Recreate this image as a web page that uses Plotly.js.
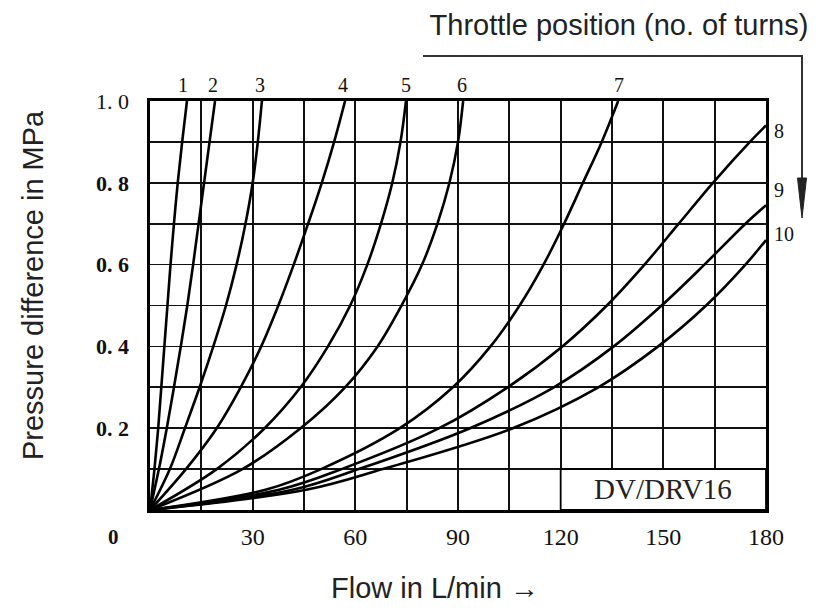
<!DOCTYPE html>
<html>
<head>
<meta charset="utf-8">
<script src="https://cdn.plot.ly/plotly-3.0.1.min.js"></script>
<style>
  html, body { margin: 0; padding: 0; background: #fff; }
  #chart { width: 819px; height: 608px; }
</style>
</head>
<body>
<div id="chart"></div>
<script>
// ---- data ----
const turnLabels = ['1', '2', '3', '4', '5', '6', '7', '8', '9', '10'];

// pressure levels (MPa) used for curves 1-6
const pressureA = [0, 0.1, 0.2, 0.3, 0.4, 0.5, 0.6, 0.7, 0.8, 0.9, 1.0];
const flow1 = [0, 1.3, 2.4, 3.3, 4.2, 5.1, 6.0, 7.0, 8.1, 9.4, 10.8];
const flow2 = [0, 2.6, 4.9, 7.0, 9.0, 10.9, 12.6, 14.2, 15.8, 17.4, 19.0];
const flow3 = [0, 5.8, 10.2, 14.5, 18.5, 22.2, 25.3, 27.9, 30.0, 31.5, 32.7];
const flow4 = [0, 10.5, 19.5, 26.5, 32.5, 37.5, 42.0, 46.2, 50.2, 53.8, 57.0];
const flow5 = [0, 19.5, 33.5, 44.0, 52.0, 58.5, 63.5, 67.5, 70.8, 73.2, 74.8];
const flow6 = [0, 27.0, 44.0, 57.0, 66.5, 73.5, 79.5, 84.0, 87.5, 90.0, 91.5];

const pressure7 = [0, 0.05, 0.1, 0.2, 0.3, 0.4, 0.5, 0.6, 0.7, 0.8, 0.9, 1.0];
const flow7     = [0, 34, 50, 73, 88.5, 99.5, 108, 115, 121, 126.5, 132, 136.8];

const pressure8 = [0, 0.05, 0.1, 0.2, 0.3, 0.4, 0.5, 0.6, 0.7, 0.8, 0.9, 0.94];
const flow8     = [0, 38, 56, 84.5, 104.5, 120.5, 133.5, 144.5, 154.5, 164.5, 175.3, 180];

const pressure9 = [0, 0.05, 0.1, 0.2, 0.3, 0.4, 0.5, 0.6, 0.7, 0.745];
const flow9     = [0, 42, 61, 93.5, 118, 135.5, 149.5, 162, 174, 180];

const pressure10 = [0, 0.05, 0.1, 0.2, 0.3, 0.4, 0.5, 0.6, 0.66];
const flow10     = [0, 46, 68, 106, 131, 148.5, 162.5, 174, 180];

const xTickVals = [30, 60, 90, 120, 150, 180];
const xTickText = ['30', '60', '90', '120', '150', '180'];
const yTickVals = [0.2, 0.4, 0.6, 0.8, 1.0];
const yTickText = ['<b>0. 2</b>', '<b>0. 4</b>', '<b>0. 6</b>', '<b>0. 8</b>', '1. 0'];

const flows = [flow1, flow2, flow3, flow4, flow5, flow6, flow7, flow8, flow9, flow10];
const pressures = [pressureA, pressureA, pressureA, pressureA, pressureA, pressureA,
                   pressure7, pressure8, pressure9, pressure10];

// ---- styling (kept separate from data) ----
const SERIF = '"Liberation Serif", "Times New Roman", serif';
const SANS = '"Liberation Sans", Arial, sans-serif';
const labelPlacement = [
  {side: 'top', dx: -4}, {side: 'top', dx: -2}, {side: 'top', dx: -2}, {side: 'top', dx: -2},
  {side: 'top', dx: 0}, {side: 'top', dx: -1}, {side: 'top', dx: 1},
  {side: 'right', dy: -5}, {side: 'right', dy: 15}, {side: 'right', dy: 6}
];

const traces = flows.map((f, i) => ({
  type: 'scatter',
  mode: 'lines',
  x: f,
  y: pressures[i],
  name: turnLabels[i],
  line: {color: '#000', width: 2.6, shape: 'spline', smoothing: 1.0},
  hoverinfo: 'skip',
  showlegend: false
}));

const annotations = [];
flows.forEach((f, i) => {
  const p = pressures[i];
  const lx = f[f.length - 1];
  const ly = p[p.length - 1];
  const pl = labelPlacement[i];
  if (pl.side === 'top') {
    annotations.push({x: lx, y: ly, xref: 'x', yref: 'y', text: turnLabels[i], showarrow: false,
      xanchor: 'center', yanchor: 'bottom', xshift: pl.dx, yshift: 3,
      font: {family: SERIF, size: 20, color: '#111'}});
  } else {
    annotations.push({x: lx, y: ly, xref: 'x', yref: 'y', text: turnLabels[i], showarrow: false,
      xanchor: 'left', yanchor: 'middle', xshift: 6, yshift: pl.dy,
      font: {family: SERIF, size: 20, color: '#111'}});
  }
});

annotations.push({x: 0, y: 0, xref: 'x', yref: 'y', text: '<b>0</b>', showarrow: false,
  xanchor: 'center', yanchor: 'middle', xshift: -37, yshift: -27,
  font: {family: SERIF, size: 21, color: '#111'}});
annotations.push({x: 150, y: 0.05, xref: 'x', yref: 'y', text: 'DV/DRV16', showarrow: false,
  xanchor: 'center', yanchor: 'middle', yshift: 1,
  font: {family: SERIF, size: 29, color: '#222'}});
annotations.push({x: -0.19, y: 0.55, xref: 'paper', yref: 'paper', text: 'Pressure difference in MPa',
  textangle: -90, showarrow: false, xanchor: 'center', yanchor: 'middle',
  font: {family: SANS, size: 29, color: '#222'}});
annotations.push({x: 0.4627, y: -0.1907, xref: 'paper', yref: 'paper', text: 'Flow in L/min \u2192',
  showarrow: false, xanchor: 'center', yanchor: 'middle',
  font: {family: SANS, size: 29, color: '#222'}});

const px = v => (v - 150) / 616;
const py = v => (510 - v) / 409;

const shapes = [
  {type: 'rect', xref: 'x', yref: 'y', x0: 120, x1: 180, y0: 0, y1: 0.1,
   fillcolor: '#fff', line: {color: '#000', width: 1.8}, layer: 'above'},
  {type: 'path', xref: 'paper', yref: 'paper',
   path: `M ${px(423)} ${py(56)} L ${px(802)} ${py(56)} L ${px(802)} ${py(182)}`,
   line: {color: '#333', width: 2}},
  {type: 'path', xref: 'paper', yref: 'paper',
   path: `M ${px(797.5)} ${py(178)} L ${px(806.5)} ${py(178)} L ${px(802)} ${py(218)} Z`,
   fillcolor: '#222', line: {color: '#222', width: 1}}
];

const layout = {
  width: 819,
  height: 608,
  margin: {l: 150, r: 53, t: 101, b: 98},
  paper_bgcolor: '#fff',
  plot_bgcolor: '#fff',
  showlegend: false,
  title: {
    text: 'Throttle position (no. of turns)',
    x: 0.7558, xanchor: 'center', xref: 'container',
    y: 0.9589, yanchor: 'middle', yref: 'container',
    font: {family: SANS, size: 29, color: '#222'}
  },
  xaxis: {
    range: [0, 180],
    showgrid: true, gridcolor: '#111', gridwidth: 1.7,
    zeroline: false,
    showline: true, mirror: true, linecolor: '#000', linewidth: 2.6,
    tickmode: 'array', tickvals: xTickVals, ticktext: xTickText,
    ticks: '', ticklabelstandoff: 4,
    tickfont: {family: SERIF, size: 24, color: '#111'},
    minor: {dtick: 15, tick0: 0, showgrid: true, gridcolor: '#111', gridwidth: 1.7, ticks: ''},
    fixedrange: true
  },
  yaxis: {
    range: [0, 1.0],
    showgrid: true, gridcolor: '#111', gridwidth: 1.7,
    zeroline: false,
    showline: true, mirror: true, linecolor: '#000', linewidth: 2.6,
    tickmode: 'array', tickvals: yTickVals, ticktext: yTickText,
    ticks: '', ticklabelstandoff: 14,
    tickfont: {family: SERIF, size: 22, color: '#111'},
    minor: {dtick: 0.1, tick0: 0, showgrid: true, gridcolor: '#111', gridwidth: 1.7, ticks: ''},
    fixedrange: true
  },
  annotations: annotations,
  shapes: shapes
};

Plotly.newPlot('chart', traces, layout, {staticPlot: true, displayModeBar: false});
</script>
</body>
</html>
